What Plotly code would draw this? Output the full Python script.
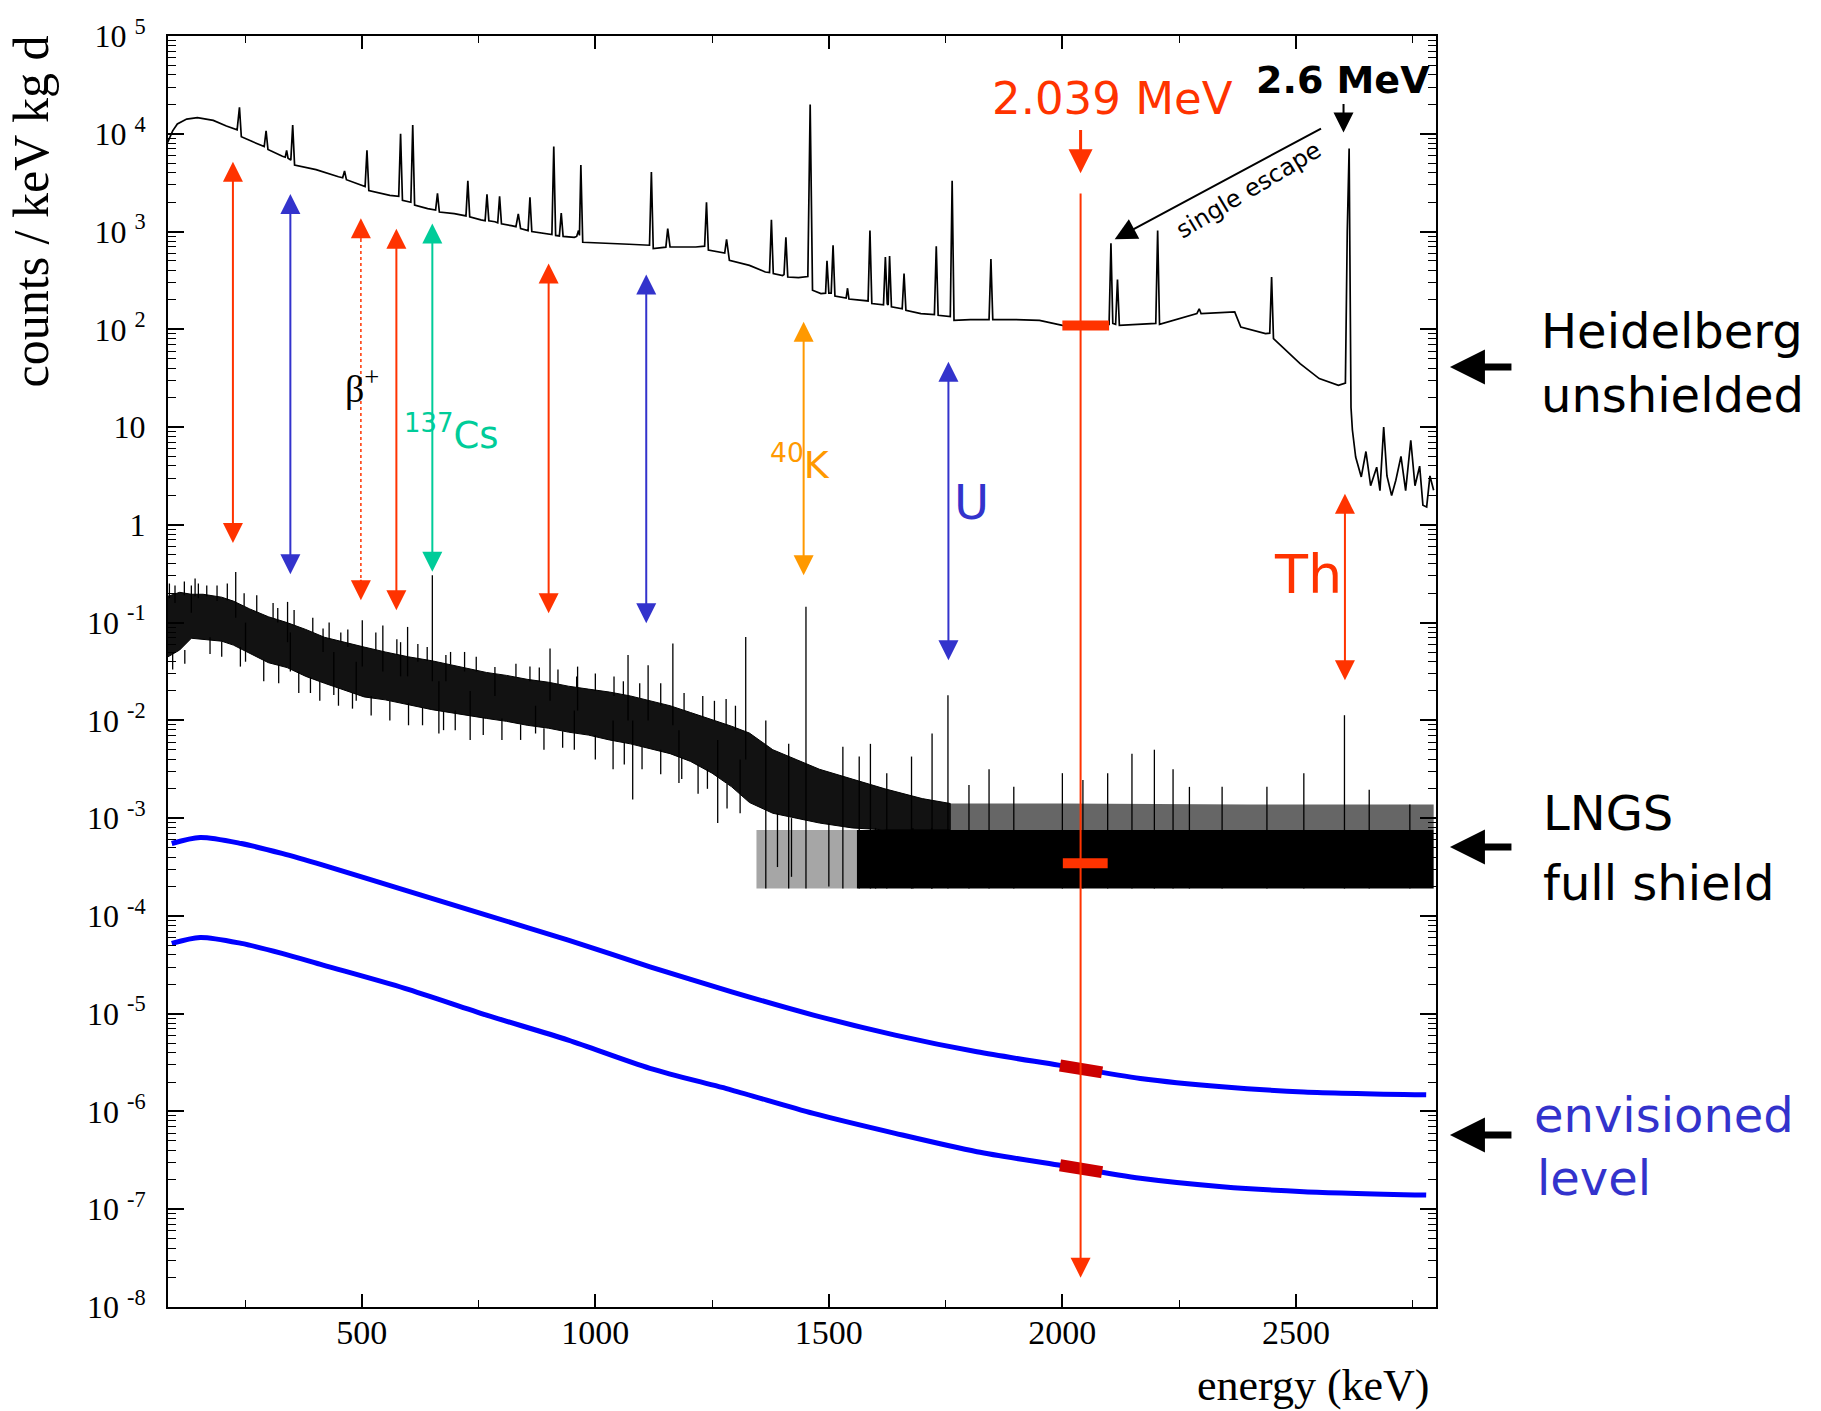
import plotly.graph_objects as go

# ---------------- data (energy in keV, values as log10 of counts/(keV kg d)) ----------------
# Heidelberg unshielded spectrum
heid_E = [84, 95, 105, 125, 148, 182, 210, 233, 238, 242, 268, 291, 295, 299, 330, 336, 339, 342, 348, 352, 356,
          402, 450, 459, 463, 467, 507, 511, 515, 560, 579, 583, 587, 605, 609, 613, 641, 658, 662, 666, 698,
          723, 727, 731, 755, 764, 768, 772, 785, 791, 795, 799, 820, 830, 835, 840, 856, 860, 864, 880,
          907, 911, 915, 923, 927, 931, 955, 960, 964, 966, 969, 973, 1024, 1072, 1116, 1120, 1124,
          1151, 1155, 1160, 1215, 1234, 1238, 1242, 1277, 1281, 1287, 1330, 1364, 1373, 1377, 1381,
          1401, 1404, 1408, 1412, 1435, 1455, 1460, 1465, 1483, 1493, 1496, 1500, 1505, 1509, 1513,
          1522, 1537, 1540, 1543, 1584, 1588, 1592, 1617, 1621, 1625, 1627, 1630, 1634, 1657, 1661,
          1665, 1697, 1726, 1730, 1734, 1760, 1764, 1768, 1803, 1843, 1847, 1851, 1894, 1951, 2000,
          2050, 2100, 2104, 2108, 2114, 2118, 2122, 2180, 2200, 2204, 2208, 2288, 2293, 2297, 2369,
          2382, 2435, 2444, 2448, 2452, 2509, 2550, 2591, 2606, 2610, 2614, 2618, 2621, 2628, 2640,
          2650, 2660, 2673, 2680, 2688, 2695, 2705, 2714, 2725, 2735, 2746, 2755, 2765, 2772, 2780,
          2787, 2795]
heid_log = [3.91, 4.03, 4.10, 4.15, 4.165, 4.137, 4.08, 4.04, 4.27, 3.97, 3.915, 3.87, 4.03, 3.84, 3.77, 3.76, 3.83,
            3.75, 3.73, 4.09, 3.68, 3.633, 3.56, 3.55, 3.62, 3.53, 3.46, 3.83, 3.42, 3.37, 3.36, 4.0, 3.32,
            3.30, 4.09, 3.27, 3.234, 3.22, 3.39, 3.20, 3.183, 3.16, 3.52, 3.15, 3.12, 3.11, 3.38, 3.11, 3.10,
            3.09, 3.36, 3.08, 3.06, 3.05, 3.18, 3.03, 3.01, 3.35, 3.00, 2.99, 2.97, 3.87, 2.96, 2.955, 3.19,
            2.95, 2.94, 2.95, 3.01, 2.96, 3.68, 2.89, 2.876, 2.87, 2.86, 3.61, 2.825, 2.84, 3.03, 2.842,
            2.842, 2.85, 3.30, 2.81, 2.78, 2.92, 2.705, 2.654, 2.586, 2.58, 3.12, 2.57, 2.55, 2.56, 2.94,
            2.535, 2.528, 2.54, 4.30, 2.40, 2.365, 2.37, 2.70, 2.37, 2.37, 2.86, 2.34, 2.33, 2.32, 2.42,
            2.31, 2.29, 3.01, 2.263, 2.25, 2.74, 2.26, 2.25, 2.75, 2.23, 2.21, 2.57, 2.194, 2.16, 2.15,
            2.85, 2.143, 2.13, 3.52, 2.092, 2.10, 2.10, 2.72, 2.10, 2.10, 2.092, 2.041, 2.03, 2.05, 2.88,
            2.06, 2.05, 2.51, 2.041, 2.05, 2.06, 3.01, 2.05, 2.16, 2.21, 2.16, 2.177, 2.024, 1.956, 1.96,
            2.535, 1.906, 1.649, 1.496, 1.427, 1.45, 3.0, 3.85, 1.2, 0.97, 0.694, 0.49, 0.75, 0.40, 0.59,
            0.35, 1.00, 0.50, 0.30, 0.456, 0.70, 0.35, 0.865, 0.40, 0.60, 0.20, 0.183, 0.50, 0.354]

# LNGS full-shield spectrum: envelope of the noisy continuum
lngs_band_E = [85, 110, 135, 160, 200, 225, 260, 300, 340, 380, 420, 460, 505, 550, 600, 650, 700, 767, 810,
               854, 900, 942, 985, 1030, 1075, 1117, 1160, 1204, 1250, 1292, 1330, 1380, 1430, 1480, 1550,
               1620, 1700, 1760]
lngs_band_hi = [-0.73, -0.69, -0.71, -0.71, -0.74, -0.78, -0.86, -0.94, -1.0, -1.07, -1.15, -1.2, -1.25, -1.3,
                -1.35, -1.39, -1.44, -1.51, -1.54, -1.58, -1.61, -1.65, -1.68, -1.71, -1.75, -1.8, -1.85, -1.92,
                -1.99, -2.06, -2.13, -2.3, -2.4, -2.5, -2.6, -2.7, -2.8, -2.85]
lngs_band_lo = [-1.35, -1.28, -1.16, -1.17, -1.19, -1.23, -1.31, -1.41, -1.46, -1.55, -1.62, -1.69, -1.76, -1.79,
                -1.84, -1.89, -1.93, -1.98, -2.01, -2.05, -2.08, -2.12, -2.15, -2.2, -2.24, -2.29, -2.34, -2.42,
                -2.54, -2.68, -2.84, -2.95, -3.0, -3.05, -3.1, -3.12, -3.12, -3.12]
# LNGS peak lines and noise whiskers (energy, from, to)
lngs_spike_E = [230, 341, 501, 598, 651, 903, 1113, 1166, 1322, 135, 417, 545, 583, 680, 785, 962, 1070,
                251, 347, 440, 488, 665, 732, 872, 955, 1038, 1080, 1179, 1262, 1310,
                100, 150, 190, 275, 320, 395, 470, 620, 720, 860, 1000, 1040, 1140, 1230, 1280, 1300,
                95, 175, 290, 365, 410, 520, 600, 700, 800, 1000, 1140, 1220, 1390, 1420, 1500, 1600, 1680, 1720,
                88, 120, 143, 168, 212, 248, 310, 355, 430, 455, 530, 575, 640, 690, 745, 830, 880, 920, 960,
                1060, 1095, 1190, 1255,
                121, 200, 240, 322, 390, 450, 480, 560, 630, 675, 760, 840, 890, 930, 1062, 1100, 1185, 1240,
                1282]
lngs_spike_from = [-0.95, -1.2, -1.45, -1.55, -1.6, -1.8, -2.0, -2.05, -2.4, -0.9, -1.3, -1.5, -1.55, -1.6,
                   -1.75, -1.9, -2.0, -1.0, -1.1, -1.3, -1.4, -1.6, -1.7, -1.85, -1.9, -2.0, -2.0, -2.1, -2.2,
                   -2.4,
                   -0.8, -0.75, -0.78, -0.9, -1.0, -1.1, -1.25, -1.4, -1.5, -1.6, -1.7, -1.75, -1.85, -1.97, -2.05,
                   -2.1,
                   -1.3, -1.15, -1.38, -1.5, -1.6, -1.75, -1.82, -1.9, -1.98, -2.15, -2.3, -2.45, -2.95, -3.0,
                   -3.05, -3.1, -3.1, -3.1,
                   -0.75, -0.72, -0.73, -0.73, -0.77, -0.83, -0.96, -1.03, -1.17, -1.2, -1.28, -1.33, -1.39, -1.43,
                   -1.5, -1.56, -1.6, -1.63, -1.66, -1.74, -1.77, -1.9, -2.0,
                   -1.28, -1.19, -1.25, -1.43, -1.56, -1.67, -1.72, -1.8, -1.87, -1.91, -1.97, -2.04, -2.08, -2.11,
                   -2.22, -2.27, -2.38, -2.5, -2.65]
lngs_spike_to = [-0.482, -0.788, -0.975, -1.044, -0.515, -1.265, -1.436, -1.214, -1.146, -0.62, -1.06, -1.03,
                 -1.2, -1.33, -1.453, -1.45, -1.33, -1.4, -1.5, -1.74, -1.8, -2.134, -2.2, -2.134, -2.30, -2.5,
                 -2.81, -2.64, -3.05, -2.95,
                 -0.62, -0.6, -0.62, -0.72, -0.85, -0.95, -1.07, -1.22, -1.3, -1.45, -1.52, -1.55, -1.62, -1.75,
                 -1.78, -1.85,
                 -1.48, -1.32, -1.6, -1.72, -1.8, -1.95, -2.05, -2.1, -2.2, -2.4, -2.55, -2.75, -3.5, -3.6, -3.7,
                 -3.72, -3.72, -3.72,
                 -0.6, -0.58, -0.55, -0.62, -0.6, -0.7, -0.8, -0.87, -1.0, -1.1, -1.1, -1.17, -1.25, -1.3, -1.35,
                 -1.42, -1.46, -1.48, -1.55, -1.6, -1.62, -1.72, -1.8,
                 -1.42, -1.35, -1.45, -1.62, -1.72, -1.85, -1.88, -2.0, -2.05, -2.1, -2.15, -2.2, -2.3, -2.28,
                 -2.45, -2.5, -2.6, -2.7, -2.9]
# LNGS sparse-count region (single counts per bin)
comb_hatch_E = [1760, 2000, 2400, 2795]
comb_hatch_top = [-2.85, -2.85, -2.86, -2.86]
comb_level = -3.12
comb_floor = -3.72
comb_sparse_E = [1345, 1560]
comb_dense_E = [1560, 2795]
comb_line_E = [1365, 1414, 1451, 1530, 1565, 1589, 1624, 1677, 1721, 1755, 1800, 1843, 1896, 2000, 2044, 2097,
               2149, 2197, 2237, 2272, 2342, 2438, 2517, 2604, 2657, 2744]
comb_line_top = [-2.0, -2.24, -0.839, -2.27, -2.37, -2.24, -2.54, -2.37, -2.134, -1.742, -2.66, -2.5, -2.68,
                 -2.54, -2.61, -2.54, -2.34, -2.3, -2.5, -2.68, -2.68, -2.68, -2.54, -1.947, -2.71, -2.86]

# envisioned levels (blue curves)
env_E = [93, 154, 242, 329, 417, 592, 767, 942, 1117, 1292, 1467, 1642, 1817, 1992, 2167, 2342, 2517, 2779]
env_upper = [-3.259, -3.197, -3.259, -3.361, -3.481, -3.736, -3.992, -4.247, -4.52, -4.776, -5.014, -5.219,
             -5.39, -5.526, -5.662, -5.747, -5.80, -5.83]
env_lower = [-4.281, -4.22, -4.281, -4.383, -4.503, -4.741, -5.014, -5.27, -5.559, -5.781, -6.02, -6.224,
             -6.412, -6.548, -6.684, -6.77, -6.82, -6.855]

# Q-value window bars (energy start/end, log10 level)
qbar_E = [2000, 2100]
qbar_heid = [2.04, 2.04]
qbar_lngs_E = [2001, 2097]
qbar_lngs = [-3.46, -3.46]
qbar_env_E = [1995, 2085]
qbar_env_upper = [-5.53, -5.60]
qbar_env_lower = [-6.55, -6.62]

# double arrows (line energy marks): energy, top tip, bottom tip, colour
arrow_E = [224, 347, 574, 651, 900, 1109, 1446, 1756, 2605]
arrow_top = [3.728, 3.40, 3.043, 3.097, 2.688, 2.576, 2.092, 1.683, 0.333]
arrow_bot = [-0.185, -0.505, -0.873, -0.48, -0.904, -1.006, -0.515, -1.384, -1.589]
arrow_col = ["#ff3300", "#3333cc", "#ff3300", "#00cc99", "#ff3300", "#3333cc", "#ff9900", "#3333cc", "#ff3300"]
beta_E, beta_top, beta_bot = 498, 3.135, -0.771

q_E = 2039
yticks = [-8, -7, -6, -5, -4, -3, -2, -1, 0, 1, 2, 3, 4, 5]
yticktext = ["10 <sup>%d</sup>" % k for k in yticks[:8]] + ["1", "10"] + ["10 <sup>%d</sup>" % k for k in yticks[10:]]

RED = "#ff3300"
BLUE_TXT = "#3333cc"
COMIC = "DejaVu Sans"
SERIF = "Liberation Serif"


def p(a):
    return [None if x is None else 10 ** x for x in a]


def poly(xs, top, bottom):
    return xs + xs[::-1], p(top + bottom[::-1])


fig = go.Figure()

# LNGS noisy band
bx, by = poly(lngs_band_E, lngs_band_hi, lngs_band_lo)
fig.add_trace(go.Scatter(x=bx, y=by, fill="toself", fillcolor="rgba(0,0,0,0.93)", mode="lines",
                         line=dict(color="black", width=1), hoverinfo="skip"))
# comb region
hx, hy = poly(comb_hatch_E, comb_hatch_top, [comb_level] * len(comb_hatch_E))
fig.add_trace(go.Scatter(x=hx, y=hy, fill="toself", fillcolor="rgba(0,0,0,0.6)", mode="lines", line=dict(width=0),
                         hoverinfo="skip"))
sx_, sy_ = poly(comb_sparse_E, [comb_level] * 2, [comb_floor] * 2)
fig.add_trace(go.Scatter(x=sx_, y=sy_, fill="toself", fillcolor="rgba(0,0,0,0.35)", mode="lines",
                         line=dict(width=0), hoverinfo="skip"))
dx_, dy_ = poly(comb_dense_E, [comb_level] * 2, [comb_floor] * 2)
fig.add_trace(go.Scatter(x=dx_, y=dy_, fill="toself", fillcolor="black", mode="lines", line=dict(width=0),
                         hoverinfo="skip"))
# spikes
sx, sy = [], []
for e, a, b in zip(lngs_spike_E, lngs_spike_from, lngs_spike_to):
    sx += [e, e, None]
    sy += [a, b, None]
for e, t in zip(comb_line_E, comb_line_top):
    sx += [e, e, None]
    sy += [comb_floor, t, None]
fig.add_trace(go.Scatter(x=sx, y=p(sy), mode="lines", line=dict(color="black", width=1.3), hoverinfo="skip",
                         connectgaps=False))

# Heidelberg spectrum
fig.add_trace(go.Scatter(x=heid_E, y=p(heid_log), mode="lines", line=dict(color="black", width=1.7)))

# envisioned curves
for arr in (env_upper, env_lower):
    fig.add_trace(go.Scatter(x=env_E, y=p(arr), mode="lines", line=dict(color="#0000ff", width=5, shape="spline",
                                                                       smoothing=0.8)))

# Q-value bars
fig.add_trace(go.Scatter(x=qbar_E, y=p(qbar_heid), mode="lines", line=dict(color=RED, width=10)))
fig.add_trace(go.Scatter(x=qbar_lngs_E, y=p(qbar_lngs), mode="lines", line=dict(color=RED, width=10)))
fig.add_trace(go.Scatter(x=qbar_env_E, y=p(qbar_env_upper), mode="lines", line=dict(color="#cc0000", width=12)))
fig.add_trace(go.Scatter(x=qbar_env_E, y=p(qbar_env_lower), mode="lines", line=dict(color="#cc0000", width=12)))

# beta+ dotted shaft
fig.add_trace(go.Scatter(x=[beta_E, beta_E], y=p([beta_top - 0.15, beta_bot + 0.15]), mode="lines",
                         line=dict(color=RED, width=1.5, dash="dot")))

ann = []
for e, t, b, c in zip(arrow_E, arrow_top, arrow_bot, arrow_col):
    ann.append(dict(x=e, y=b, ax=e, ay=t, xref="x", yref="y", axref="x", ayref="y", text="", showarrow=True,
                    arrowside="end+start", arrowhead=2, startarrowhead=2, arrowsize=2, startarrowsize=2,
                    arrowwidth=2, arrowcolor=c))
# beta+ heads
ann.append(dict(x=beta_E, y=beta_top, ax=0, ay=22, xref="x", yref="y", axref="pixel", ayref="pixel", text="",
                showarrow=True, arrowhead=2, arrowsize=2, arrowwidth=2, arrowcolor=RED))
ann.append(dict(x=beta_E, y=beta_bot, ax=0, ay=-22, xref="x", yref="y", axref="pixel", ayref="pixel", text="",
                showarrow=True, arrowhead=2, arrowsize=2, arrowwidth=2, arrowcolor=RED))
# Q-value line and arrow
ann.append(dict(x=q_E, y=-7.70, ax=q_E, ay=3.404, xref="x", yref="y", axref="x", ayref="y", text="",
                showarrow=True, arrowhead=2, arrowsize=2, arrowwidth=2, arrowcolor=RED))
ann.append(dict(x=q_E, y=3.595, ax=q_E, ay=4.055, xref="x", yref="y", axref="x", ayref="y", text="",
                showarrow=True, arrowhead=2, arrowsize=1.6, arrowwidth=3, arrowcolor=RED))
# 2.6 MeV arrow
ann.append(dict(x=2602, y=4.014, ax=2602, ay=4.32, xref="x", yref="y", axref="x", ayref="y", text="",
                showarrow=True, arrowhead=2, arrowsize=2, arrowwidth=2, arrowcolor="black"))
# single escape arrow
ann.append(dict(x=2112, y=2.92, ax=2557, ay=4.062, xref="x", yref="y", axref="x", ayref="y", text="",
                showarrow=True, arrowhead=2, arrowsize=2.2, arrowwidth=2, arrowcolor="black"))

labels = [
    ("2.039 MeV", 2108, 4.36, RED, 45, COMIC, 0),
    ("<b>2.6 MeV</b>", 2600, 4.546, "black", 38, COMIC, 0),
    ("single escape", 2399, 3.42, "black", 24, COMIC, -31),
    ("β<sup>+</sup>", 500, 1.42, "black", 38, SERIF, 0),
    ("<sup>137</sup>Cs", 693, 0.947, "#00cc99", 37, COMIC, 0),
    ("<sup>40</sup>K", 1439, 0.64, "#ff9900", 38, COMIC, 0),
    ("U", 1805, 0.231, BLUE_TXT, 48, COMIC, 0),
    ("Th", 2526, -0.505, RED, 54, COMIC, 0),
]
for txt, x, y, c, s, f, ang in labels:
    ann.append(dict(x=x, y=y, xref="x", yref="y", text=txt, showarrow=False, textangle=ang,
                    font=dict(color=c, size=s, family=f), xanchor="center", yanchor="middle"))

# right-hand labels (paper coords)
side = [
    ("Heidelberg", 1.0815, 0.7679, "black"), ("unshielded", 1.0815, 0.7175, "black"),
    ("LNGS", 1.0826, 0.3887, "black"), ("full shield", 1.0826, 0.3336, "black"),
    ("envisioned", 1.0761, 0.1511, BLUE_TXT), ("level", 1.0777, 0.1015, BLUE_TXT),
]
for txt, x, y, c in side:
    ann.append(dict(x=x, y=y, xref="paper", yref="paper", text=txt, showarrow=False, xanchor="left",
                    yanchor="middle", font=dict(color=c, size=48, family=COMIC)))
for y in (0.7396, 0.3619, 0.1353):
    ann.append(dict(x=1.011, y=y, xref="paper", yref="paper", ax=63, ay=0, axref="pixel", ayref="pixel",
                    text="", showarrow=True, arrowhead=2, arrowsize=1, arrowwidth=7, arrowcolor="black"))

# axis titles
ann.append(dict(x=-0.108, y=0.862, xref="paper", yref="paper", text="counts / keV kg d", textangle=-90,
                showarrow=False, font=dict(size=50, family=SERIF, color="black"), xanchor="center",
                yanchor="middle"))
ann.append(dict(x=0.997, y=-0.062, xref="paper", yref="paper", text="energy (keV)", showarrow=False,
                font=dict(size=44, family=SERIF, color="black"), xanchor="right", yanchor="middle"))

fig.update_layout(
    width=1821, height=1411, margin=dict(l=168, r=385, t=36, b=104),
    paper_bgcolor="white", plot_bgcolor="white", showlegend=False,
    font=dict(family=SERIF, color="black"), annotations=ann,
    xaxis=dict(range=[85, 2800], tickmode="linear", tick0=0, dtick=500, ticks="inside", ticklen=13,
               tickwidth=1.5, tickcolor="black", showline=True, linewidth=2, linecolor="black", mirror="ticks",
               showgrid=False, zeroline=False, tickfont=dict(size=34, family=SERIF, color="black"),
               ticklabelstandoff=-6,
               minor=dict(ticks="inside", ticklen=7, dtick=250, tickwidth=1.2, tickcolor="black", showgrid=False)),
    yaxis=dict(type="log", range=[-8, 5], tickmode="array", tickvals=[10 ** k for k in yticks], ticktext=yticktext,
               ticks="inside", ticklen=16, tickwidth=1.5, tickcolor="black", showline=True, linewidth=2,
               linecolor="black", mirror="ticks", showgrid=False, zeroline=False, ticklabelstandoff=14,
               tickfont=dict(size=32, family=SERIF, color="black"),
               minor=dict(ticks="inside", ticklen=8, dtick="D1", tickwidth=1, tickcolor="black", showgrid=False)),
)

fig.write_html("out.html", config={"displayModeBar": False},
               post_script="document.body.style.margin='0';document.body.style.overflow='hidden';")
